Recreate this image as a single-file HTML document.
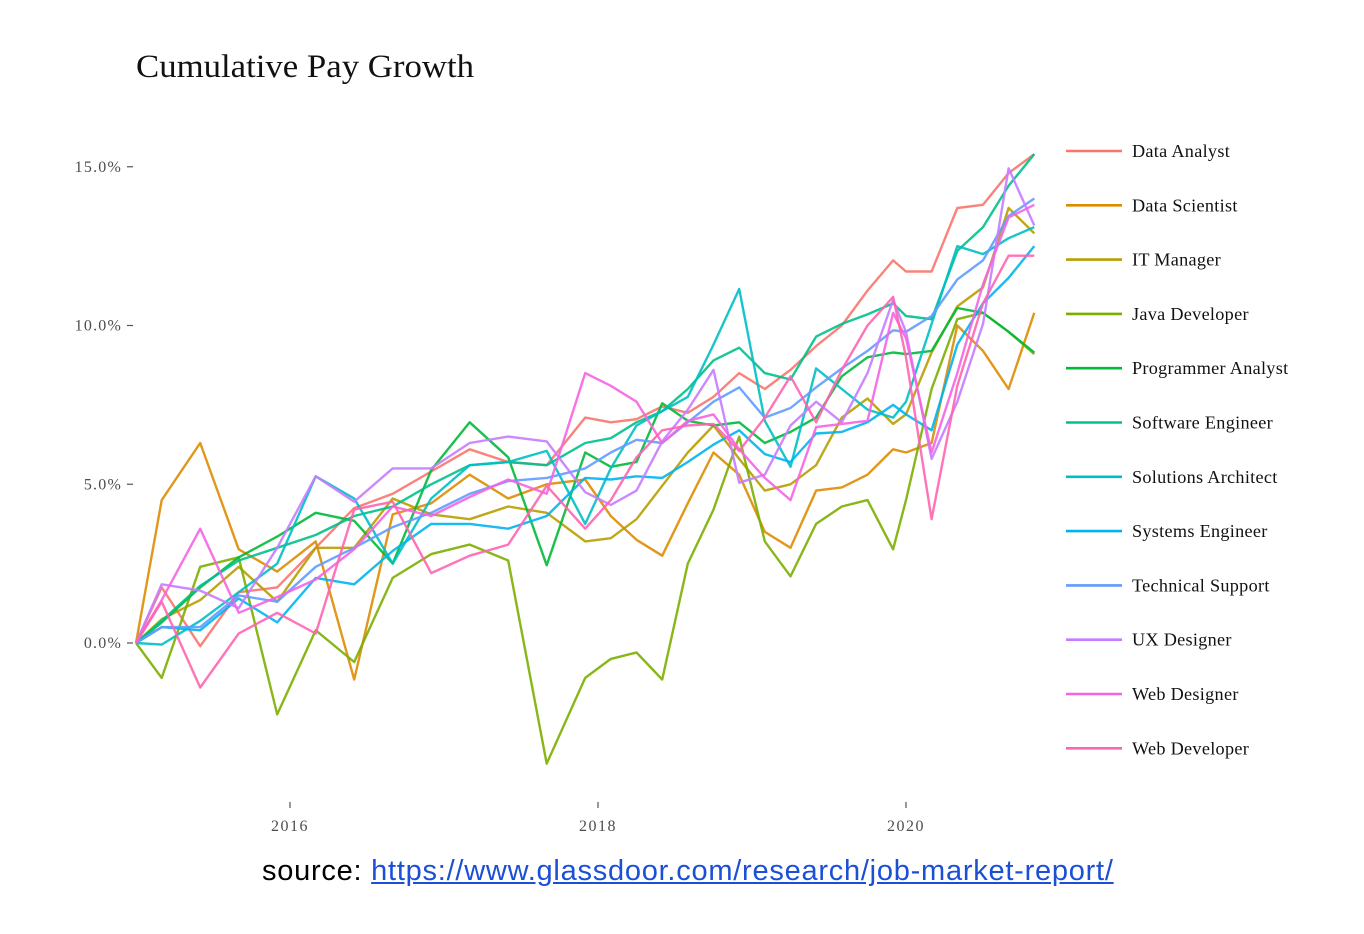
<!DOCTYPE html>
<html><head><meta charset="utf-8"><style>
body{margin:0;background:#fff;width:1364px;height:934px;overflow:hidden;position:relative}
svg{position:absolute;left:0;top:0}
.src{position:absolute;left:262px;top:855px;font-family:"Liberation Sans",sans-serif;font-size:29px;color:#000;white-space:nowrap;letter-spacing:0.75px}
.src a{color:#1a4fd6;text-decoration:underline}
</style></head><body>
<svg id="chart" width="1364" height="934"></svg>
<div class="src">source: <a>https://www.glassdoor.com/research/job-market-report/</a></div>
<script>
const months = [0,2,5,8,11,14,17,20,23,26,29,32,35,37,39,41,43,45,47,49,51,53,55,57,59,60,62,64,66,68,70];
const seriesNames = ["Data Analyst","Data Scientist","IT Manager","Java Developer","Programmer Analyst","Software Engineer","Solutions Architect","Systems Engineer","Technical Support","UX Designer","Web Designer","Web Developer"];
const seriesColors = ["#F8766D","#DE8C00","#B79F00","#7CAE00","#00BA38","#00C08B","#00BFC4","#00B4F0","#619CFF","#C77CFF","#F564E3","#FF64B0"];
const dataAnalyst = [0,1.75,-0.1,1.6,1.75,3.0,4.25,4.7,5.4,6.1,5.7,5.6,7.1,6.95,7.05,7.45,7.25,7.75,8.5,8.0,8.6,9.35,10.0,11.1,12.05,11.7,11.7,13.7,13.8,14.8,15.4];
const dataScientist = [0,4.5,6.3,2.95,2.25,3.2,-1.15,4.05,4.4,5.3,4.55,5.0,5.15,4.0,3.25,2.75,4.4,6.0,5.3,3.5,3.0,4.8,4.9,5.3,6.1,6.0,6.3,10.0,9.2,8.0,10.4];
const itManager = [0,0.75,1.35,2.4,1.3,3.0,3.0,4.55,4.05,3.9,4.3,4.1,3.2,3.3,3.9,4.95,6.0,6.85,5.8,4.8,5.0,5.6,7.1,7.7,6.9,7.2,9.15,10.6,11.2,13.7,12.9];
const javaDeveloper = [0,-1.1,2.4,2.7,-2.25,0.4,-0.6,2.05,2.8,3.1,2.6,-3.8,-1.1,-0.5,-0.3,-1.15,2.5,4.2,6.5,3.2,2.1,3.75,4.3,4.5,2.95,4.5,8.0,10.2,10.4,9.8,9.1];
const programmerAnalyst = [0,0.65,1.75,2.7,3.35,4.1,3.85,2.5,5.45,6.95,5.85,2.45,6.0,5.55,5.7,7.55,7.0,6.85,6.95,6.3,6.65,7.1,8.4,9.0,9.15,9.1,9.2,10.55,10.4,9.8,9.15];
const softwareEngineer = [0,0.7,1.8,2.6,3.0,3.4,4.0,4.3,5.0,5.6,5.7,5.6,6.3,6.45,6.95,7.3,8.0,8.9,9.3,8.5,8.3,9.65,10.05,10.35,10.7,10.3,10.2,12.35,13.1,14.4,15.4];
const solutionsArchitect = [0,-0.05,0.7,1.6,2.5,5.25,4.55,2.5,4.55,5.6,5.7,6.05,3.75,5.5,6.85,7.3,7.75,9.4,11.15,7.0,5.55,8.65,8.0,7.35,7.1,7.6,10.05,12.5,12.25,12.75,13.1];
const systemsEngineer = [0,0.5,0.4,1.4,0.65,2.05,1.85,2.9,3.75,3.75,3.6,4.0,5.2,5.15,5.25,5.2,5.7,6.25,6.7,5.95,5.7,6.6,6.65,6.95,7.5,7.2,6.7,9.4,10.7,11.5,12.5];
const technicalSupport = [0,0.5,0.5,1.5,1.3,2.4,3.0,3.65,4.1,4.7,5.1,5.2,5.5,6.0,6.4,6.3,6.95,7.6,8.05,7.1,7.4,8.05,8.65,9.2,9.85,9.8,10.3,11.45,12.05,13.45,14.0];
const uxDesigner = [0,1.85,1.65,1.1,3.0,5.25,4.45,5.5,5.5,6.3,6.5,6.35,4.75,4.35,4.8,6.35,7.35,8.6,5.05,5.3,6.85,7.6,6.95,8.5,10.8,9.8,5.8,7.6,10.05,14.95,13.15];
const webDesigner = [0,1.35,3.6,0.95,1.45,2.0,2.95,4.3,4.0,4.6,5.15,4.7,8.5,8.1,7.6,6.3,7.0,7.2,6.1,5.2,4.5,6.8,6.9,7.0,10.4,9.6,6.0,8.5,11.3,13.4,13.8];
const webDeveloper = [0,1.3,-1.4,0.3,0.95,0.3,4.2,4.45,2.2,2.75,3.1,4.95,3.6,4.5,5.85,6.7,6.85,6.9,6.05,7.1,8.4,6.95,8.6,10.0,10.9,9.0,3.9,8.1,10.7,12.2,12.2];
const allSeries = [dataAnalyst,dataScientist,itManager,javaDeveloper,programmerAnalyst,softwareEngineer,solutionsArchitect,systemsEngineer,technicalSupport,uxDesigner,webDesigner,webDeveloper];
const yTicks = [0,5,10,15];
const yTickLabels = ["0.0%","5.0%","10.0%","15.0%"];
const xTicks = [12,36,60];
const xTickLabels = ["2016","2018","2020"];

const NS="http://www.w3.org/2000/svg";
const svg=document.getElementById('chart');
function xs(m){return 136+m*12.833;}
function ys(v){return 643-v*31.75;}
function mk(tag,attrs,parent){const e=document.createElementNS(NS,tag);for(const k in attrs)e.setAttribute(k,attrs[k]);(parent||svg).appendChild(e);return e;}
const serif='"Liberation Serif", serif';

const title=mk('text',{x:136,y:77,'font-family':serif,'font-size':33,fill:'#111',textLength:338,lengthAdjust:'spacingAndGlyphs'});
title.textContent='Cumulative Pay Growth';



yTicks.forEach((v,i)=>{
  const t=mk('text',{x:122,y:ys(v)+5,'text-anchor':'end','font-family':serif,'font-size':16,fill:'#4d4d4d','letter-spacing':1.2});
  t.textContent=yTickLabels[i];
  
  
  const l=mk('line',{x1:127,x2:133,y1:ys(v),y2:ys(v),stroke:'#555','stroke-width':1.2});
  
  
});
xTicks.forEach((m,i)=>{
  const l=mk('line',{x1:xs(m),x2:xs(m),y1:802,y2:808,stroke:'#555','stroke-width':1.2});
  
  
  const t=mk('text',{x:xs(m),y:831,'text-anchor':'middle','font-family':serif,'font-size':16,fill:'#4d4d4d','letter-spacing':1.5});
  t.textContent=xTickLabels[i];
  
  
});

allSeries.forEach((vals,s)=>{
  const d=vals.map((v,i)=>(i?'L':'M')+xs(months[i]).toFixed(1)+','+ys(v).toFixed(1)).join(' ');
  const p=mk('path',{d:d,fill:'none',stroke:seriesColors[s],'stroke-width':2.4,'stroke-linejoin':'round','stroke-opacity':0.9});
  
  
});

seriesNames.forEach((n,s)=>{
  const y=151+s*54.3;
  const g=mk('g',{});
  
  
  mk('line',{x1:1066,x2:1122,y1:y,y2:y,stroke:seriesColors[s],'stroke-width':2.6},g);
  const t=mk('text',{x:1132,y:y+6,'font-family':serif,'font-size':18.2,fill:'#111','letter-spacing':0.3},g);
  t.textContent=n;
});
</script>
</body></html>
